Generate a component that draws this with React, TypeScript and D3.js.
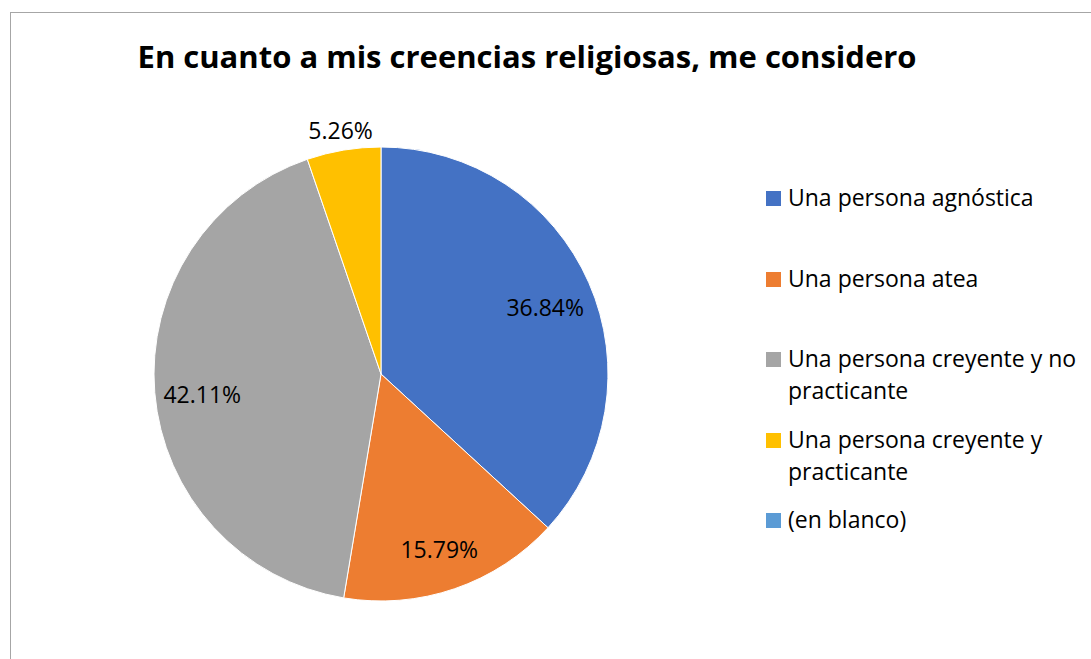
import React from "react";
import * as d3 from "d3";

const categories = [
  "Una persona agnóstica",
  "Una persona atea",
  "Una persona creyente y no practicante",
  "Una persona creyente y practicante",
  "(en blanco)",
];
const values = [36.84, 15.79, 42.11, 5.26, 0];
const colors = ["#4472C4", "#ED7D31", "#A5A5A5", "#FFC000", "#5B9BD5"];
const legendLines = [
  ["Una persona agnóstica"],
  ["Una persona atea"],
  ["Una persona creyente y no", "practicante"],
  ["Una persona creyente y", "practicante"],
  ["(en blanco)"],
];
const title = "En cuanto a mis creencias religiosas, me considero";

const W = 1091;
const H = 659;
const cx = 381;
const cy = 374;
const R = 227;
const FONT = "'Open Sans', Lato, sans-serif";

export default function App() {
  const pie = d3
    .pie<number>()
    .sort(null)
    .value((d) => d);
  const arcs = pie(values);
  const arc = d3.arc<d3.PieArcDatum<number>>().innerRadius(0).outerRadius(R);
  const inner = d3
    .arc<d3.PieArcDatum<number>>()
    .innerRadius(R * 0.79)
    .outerRadius(R * 0.79);
  const outer = d3
    .arc<d3.PieArcDatum<number>>()
    .innerRadius(R + 19)
    .outerRadius(R + 19);

  const legendY = [198, 279, 359, 440, 520];

  return (
    <svg
      width={W}
      height={H}
      style={{ position: "absolute", left: 0, top: 0 }}
      fontFamily={FONT}
    >
      <rect x={0} y={0} width={W} height={H} fill="#fff" />
      <rect
        x={10.5}
        y={12.5}
        width={W + 20}
        height={H + 20}
        fill="none"
        stroke="#a6a6a6"
        strokeWidth={1}
      />
      <text
        x={527}
        y={68}
        textAnchor="middle"
        fontSize={31}
        fontWeight="bold"
        fill="#000"
      >
        {title}
      </text>
      <g transform={`translate(${cx},${cy})`}>
        {arcs.map((a, i) =>
          a.value > 0 ? (
            <path
              key={categories[i]}
              d={arc(a) || ""}
              fill={colors[i]}
              stroke="#fff"
              strokeWidth={1}
            />
          ) : null
        )}
        {arcs.map((a, i) => {
          if (a.value <= 0) return null;
          const small = a.value < 10;
          const [x, y] = (small ? outer : inner).centroid(a);
          return (
            <text
              key={"l" + i}
              x={x}
              y={y + (small ? 8 : 14)}
              textAnchor="middle"
              fontSize={23}
              fill="#000"
            >
              {a.value.toFixed(2)}%
            </text>
          );
        })}
      </g>
      <g>
        {categories.map((c, i) => (
          <g key={c}>
            <rect
              x={766}
              y={legendY[i] - 7}
              width={15}
              height={15}
              fill={colors[i]}
            />
            {legendLines[i].map((ln, j) => (
              <text
                key={j}
                x={788}
                y={legendY[i] + 8 + j * 32}
                fontSize={23}
                fill="#000"
              >
                {ln}
              </text>
            ))}
          </g>
        ))}
      </g>
    </svg>
  );
}
